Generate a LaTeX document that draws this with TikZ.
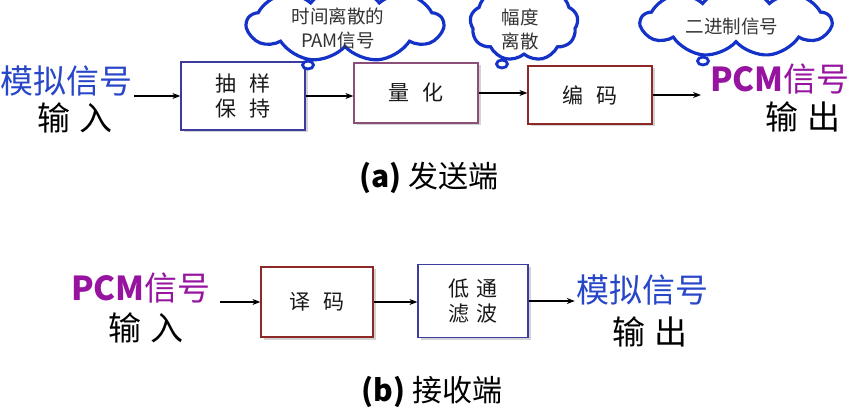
\documentclass[tikz,border=0pt]{standalone}
\usepackage{fontspec}
\setmainfont{Noto Sans CJK SC}
\usetikzlibrary{shapes.symbols,shapes.geometric,shadows,arrows.meta}

\definecolor{analogblue}{RGB}{40,70,200}
\definecolor{pcmpurple}{RGB}{150,20,160}
\definecolor{cloudblue}{RGB}{20,50,200}
\definecolor{boxblue}{RGB}{60,60,160}
\definecolor{boxred}{RGB}{140,40,40}
\definecolor{boxmauve}{RGB}{140,80,120}

\tikzset{
    blk/.style={draw=#1, line width=1.2pt, fill=white, minimum width=124pt,
        align=center, font=\fontsize{21}{25}\selectfont, text=black!90,
        drop shadow={shadow xshift=2.5pt, shadow yshift=-2.5pt, opacity=0.35}},
    sig/.style={inner sep=1pt, font=\fontsize{33}{36}\selectfont},
    bubble/.style={cloud, cloud puffs=9, cloud puff arc=105, cloud ignores aspect,
        draw=cloudblue, line width=3.2pt, fill=white},
    tail/.style={ellipse, draw=cloudblue, line width=2.8pt, fill=white, inner sep=0pt},
    note/.style={align=center, font=\fontsize{18.5}{24}\selectfont, text=black!80},
    sidecap/.style={font=\fontsize{30}{34}\selectfont},
}

\begin{document}
\begin{tikzpicture}[x=1pt, y=-1pt, >={Stealth[length=8pt,width=6pt]}]
    \useasboundingbox (0,0) rectangle (860,414);

    % (a) sending side
    \node[sig, text=analogblue] (in1) at (67,81) {模拟信号};
    \node[sig] (in1b) at (75,118) {输\hspace{0.25em}入};

    \node[blk=boxblue, minimum height=68pt] (sh) at (243,96) {抽\hspace{0.6em}样\\保\hspace{0.6em}持};
    \node[blk=boxmauve, minimum height=60pt] (qz) at (416,93) {量\hspace{0.6em}化};
    \node[blk=boxred, minimum height=58pt] (enc) at (590,95) {编\hspace{0.6em}码};

    \node[sig, text=pcmpurple] (out1) at (780,79) {\textbf{PCM}信号};
    \node[sig] (out1b) at (803,117) {输\hspace{0.25em}出};

    \draw[line width=1.2pt, ->] (in1.east |- sh.west) -- (sh.west);
    \draw[line width=1.2pt, ->] (sh.east) -- (qz.west |- sh.east);
    \draw[line width=1.2pt, ->] (qz.east) -- (enc.west |- qz.east);
    \draw[line width=1.2pt, ->, shorten >=8pt] (enc.east) -- (out1.west |- enc.east);

    % thought clouds
    \node[bubble, minimum width=196pt, minimum height=76pt] (c1) at (345,24) {};
    \node[tail, minimum width=11pt, minimum height=8pt] (c1t) at (308,65) {};
    \node[note] (c1x) at (338,28) {时间离散的\\PAM信号};

    \node[bubble, minimum width=108pt, minimum height=76pt] (c2) at (524,23) {};
    \node[tail, minimum width=11pt, minimum height=8pt] (c2t) at (502,64) {};
    \node[note] (c2x) at (520,29) {幅度\\离散};

    \node[bubble, minimum width=190pt, minimum height=70pt] (c3) at (736,22) {};
    \node[tail, minimum width=11pt, minimum height=8pt] (c3t) at (703,61) {};
    \node[note] (c3x) at (732,27) {二进制信号};

    \node[sidecap] (capa) at (429,178) {\textbf{(a)} 发送端};

    % (b) receiving side
    \node[sig, text=pcmpurple] (in2) at (141,288) {\textbf{PCM}信号};
    \node[sig] (in2b) at (146,328) {输\hspace{0.25em}入};

    \node[blk=boxred, minimum width=112pt, minimum height=70pt] (dec) at (317,302) {译\hspace{0.6em}码};
    \node[blk=boxblue, minimum width=110pt, minimum height=73pt] (lpf) at (473,301) {低\hspace{0.3em}通\\滤\hspace{0.3em}波};

    \node[sig, text=analogblue] (out2) at (642,290) {模拟信号};
    \node[sig] (out2b) at (650,332) {输\hspace{0.25em}出};

    \draw[line width=1.2pt, ->, shorten <=8pt] (in2.east |- dec.west) -- (dec.west);
    \draw[line width=1.2pt, ->] (dec.east) -- (lpf.west |- dec.east);
    \draw[line width=1.2pt, ->] (lpf.east) -- (out2.west |- lpf.east);

    \node[sidecap] (capb) at (432,392) {\textbf{(b)} 接收端};
\end{tikzpicture}
\end{document}
